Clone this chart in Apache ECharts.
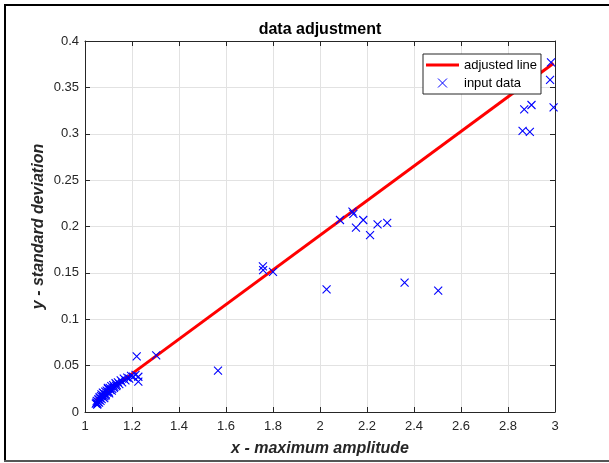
<!DOCTYPE html>
<html>
<head>
<meta charset="utf-8">
<script src="https://cdn.jsdelivr.net/npm/echarts@6/dist/echarts.min.js"></script>
<style>html,body{margin:0;padding:0;background:#fff;}#c{width:609px;height:463px;}</style>
</head>
<body>
<div id="c"></div>
<script>
// ---- data ----
const xTicks = [1, 1.2, 1.4, 1.6, 1.8, 2, 2.2, 2.4, 2.6, 2.8, 3];
const yTicks = [0, 0.05, 0.1, 0.15, 0.2, 0.25, 0.3, 0.35, 0.4];

const inputX = [
  1.046, 1.048, 1.050, 1.052, 1.053, 1.055, 1.057, 1.058, 1.060, 1.062,
  1.063, 1.066, 1.068, 1.070, 1.071, 1.074, 1.076, 1.077, 1.080, 1.082,
  1.083, 1.086, 1.088, 1.089, 1.092, 1.095, 1.097, 1.098, 1.101, 1.103,
  1.105, 1.108, 1.112, 1.114, 1.116, 1.120, 1.123, 1.125, 1.130, 1.133,
  1.135, 1.140, 1.146, 1.152, 1.158, 1.165, 1.172, 1.180, 1.188, 1.196,
  1.205, 1.215,
  1.227, 1.227, 1.220, 1.303, 1.566,
  1.757, 1.758, 1.800,
  2.028, 2.085, 2.138, 2.142, 2.153, 2.184, 2.213, 2.245, 2.286,
  2.360, 2.503,
  2.862, 2.869, 2.893, 2.900, 2.979, 2.983, 2.994
];
const inputY = [
  0.009, 0.010, 0.012, 0.008, 0.009, 0.011, 0.014, 0.013, 0.010, 0.016,
  0.015, 0.012, 0.017, 0.019, 0.014, 0.018, 0.021, 0.016, 0.020, 0.015,
  0.017, 0.022, 0.018, 0.019, 0.023, 0.021, 0.026, 0.025, 0.022, 0.020,
  0.026, 0.024, 0.028, 0.023, 0.025, 0.029, 0.026, 0.027, 0.031, 0.028,
  0.029, 0.032, 0.030, 0.034, 0.032, 0.036, 0.034, 0.037, 0.036, 0.039,
  0.038, 0.040,
  0.038, 0.0327, 0.060, 0.061, 0.0445,
  0.157, 0.153, 0.151,
  0.1323, 0.207, 0.216, 0.2135, 0.1987, 0.207, 0.1908, 0.2023, 0.204,
  0.1394, 0.1308,
  0.303, 0.3264, 0.302, 0.331, 0.358, 0.377, 0.3285
];
const lineX = [1.046, 2.994];
const lineY = [0.0125, 0.3760];

const titleText = 'data adjustment';
const xName = 'x - maximum amplitude';
const yName = 'y - standard deviation';

// ---- chart ----
const font = 'Liberation Sans, Arial, Helvetica, sans-serif';
const axisColor = '#262626';
const gridColor = '#e2e2e2';

const scatterData = inputX.map((x, i) => [x, inputY[i]]);
const lineData = lineX.map((x, i) => [x, lineY[i]]);

const chart = echarts.init(document.getElementById('c'), null, {renderer: 'canvas'});

function xAxisCfg(pos, show) {
  return {
    type: 'value', position: pos, min: 1, max: 3, interval: 0.2,
    axisLine: {show: true, onZero: false, lineStyle: {color: axisColor, width: 1}},
    axisTick: {show: true, inside: true, length: 5, lineStyle: {color: axisColor}},
    axisLabel: {show: show, color: axisColor, fontFamily: font, fontSize: 13, margin: 8,
      formatter: v => { const t = xTicks.find(k => Math.abs(k - v) < 1e-9); return t === undefined ? '' : String(t); }},
    splitLine: {show: show, lineStyle: {color: gridColor, width: 1}},
    name: show ? xName : '', nameLocation: 'middle', nameGap: 29, nameMoveOverlap: false,
    nameTextStyle: {fontFamily: font, fontSize: 16, fontWeight: 'bold', fontStyle: 'italic', color: axisColor}
  };
}
function yAxisCfg(pos, show) {
  return {
    type: 'value', position: pos, min: 0, max: 0.4, interval: 0.05,
    axisLine: {show: true, onZero: false, lineStyle: {color: axisColor, width: 1}},
    axisTick: {show: true, inside: true, length: 5, lineStyle: {color: axisColor}},
    axisLabel: {show: show, color: axisColor, fontFamily: font, fontSize: 13, margin: 6,
      formatter: v => { const t = yTicks.find(k => Math.abs(k - v) < 1e-9); return t === undefined ? '' : String(t); }},
    splitLine: {show: show, lineStyle: {color: gridColor, width: 1}},
    name: show ? yName : '', nameLocation: 'middle', nameGap: 38, nameMoveOverlap: false,
    nameTextStyle: {fontFamily: font, fontSize: 16, fontWeight: 'bold', fontStyle: 'italic', color: axisColor}
  };
}

const xMark = 'path://M0,0L10,10M10,0L0,10';
const lineIcon = 'path://M0,0h33v3h-33z';

chart.setOption({
  animation: false,
  backgroundColor: '#ffffff',
  title: {
    text: titleText, left: 315, top: 17, textAlign: 'center',
    textStyle: {fontFamily: font, fontSize: 16, fontWeight: 'bold', color: '#000000'}
  },
  grid: {left: 85, right: 54, top: 41, bottom: 51, containLabel: false},
  xAxis: [xAxisCfg('bottom', true), xAxisCfg('top', false)],
  yAxis: [yAxisCfg('left', true), yAxisCfg('right', false)],
  legend: {
    orient: 'vertical', left: 423, top: 54,
    backgroundColor: '#ffffff', borderColor: axisColor, borderWidth: 1, borderRadius: 0,
    padding: [4, 4, 4, 3], itemGap: 4, itemWidth: 33, itemHeight: 9,
    textStyle: {fontFamily: font, fontSize: 13, color: '#000000', lineHeight: 14},
    data: [
      {name: 'adjusted line', icon: lineIcon, itemStyle: {color: '#ff0000', borderWidth: 0}},
      {name: 'input data', icon: xMark, itemStyle: {color: 'none', borderColor: '#0000ff', borderWidth: 1}}
    ]
  },
  series: [
    {
      name: 'adjusted line', type: 'line', data: lineData, symbol: 'none', showSymbol: false,
      lineStyle: {color: '#ff0000', width: 3}, itemStyle: {color: '#ff0000'}, z: 3
    },
    {
      name: 'input data', type: 'scatter', data: scatterData, symbol: xMark, symbolSize: 8,
      itemStyle: {color: 'none', borderColor: '#0000ff', borderWidth: 1.1, opacity: 1}, z: 4
    }
  ],
  graphic: [
    {type: 'line', shape: {x1: 4, y1: 5, x2: 609, y2: 5}, style: {stroke: '#000000', lineWidth: 2}, silent: true},
    {type: 'line', shape: {x1: 5, y1: 4, x2: 5, y2: 461}, style: {stroke: '#000000', lineWidth: 2}, silent: true},
    {type: 'line', shape: {x1: 4, y1: 461, x2: 609, y2: 461}, style: {stroke: '#555555', lineWidth: 2}, silent: true}
  ]
});
</script>
</body>
</html>
